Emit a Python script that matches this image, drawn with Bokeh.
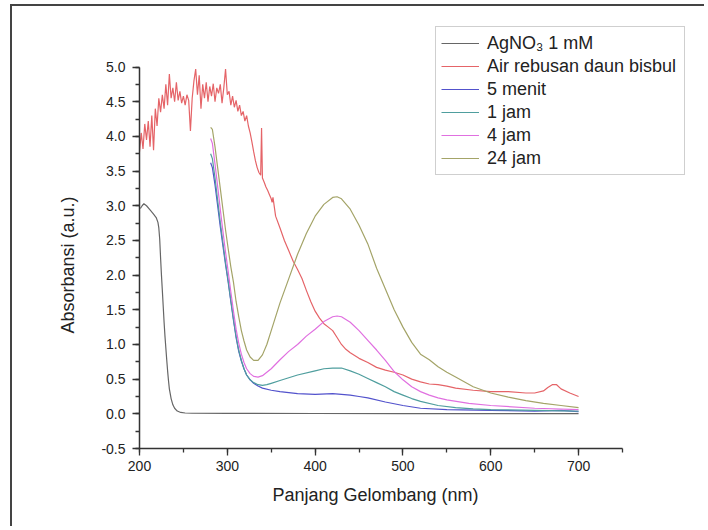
from bokeh.plotting import figure
from bokeh.models import (SingleIntervalTicker, Range1d, Legend, LegendItem,
                          NumeralTickFormatter, Title)
from bokeh.embed import file_html
from bokeh.resources import INLINE

# ---------------- data ----------------
agno3_x = [201, 203, 205, 208, 212, 216, 219, 221, 222, 223, 224, 225, 226, 227, 228,
           229, 230, 231, 232, 233, 234, 236, 238, 240, 243, 247, 252, 260, 300, 400,
           500, 600, 700]
agno3_y = [2.96, 3.00, 3.03, 3.00, 2.94, 2.88, 2.83, 2.76, 2.68, 2.52, 2.25, 2.00, 1.78,
           1.55, 1.32, 1.12, 0.95, 0.78, 0.62, 0.48, 0.36, 0.22, 0.13, 0.08, 0.04, 0.02,
           0.012, 0.008, 0.006, 0.005, 0.004, 0.004, 0.004]

air_x = [200, 202, 204, 206, 208, 210, 212, 214, 216, 218, 220, 222, 224, 226, 228, 230,
         232, 234, 236, 238, 240, 242, 244, 246, 248, 250, 252, 254, 256, 258, 260, 262,
         264, 266, 268, 270, 272, 274, 276, 278, 280, 282, 284, 286, 288, 290, 292, 294,
         296, 298, 300, 302, 304, 306, 308, 310, 312, 314, 316, 318, 320, 322, 324, 326,
         328, 330, 332, 334, 336, 338, 339, 340, 342, 344, 346, 348, 350, 351, 352, 355,
         360, 365, 370, 375, 380, 385, 390, 395, 400, 405, 410, 415, 420, 425, 430, 435,
         440, 450, 460, 470, 480, 490, 500, 510, 520, 530, 540, 550, 560, 580, 600, 620,
         640, 650, 660, 665, 670, 675, 680, 690, 700]
air_y = [3.78, 4.05, 3.82, 4.18, 3.95, 4.22, 3.85, 4.30, 3.80, 4.40, 4.15, 4.55, 4.35,
         4.60, 4.40, 4.75, 4.45, 4.90, 4.55, 4.70, 4.50, 4.78, 4.52, 4.65, 4.48, 4.58,
         4.45, 4.60, 4.52, 4.08, 4.55, 4.80, 4.97, 4.60, 4.88, 4.40, 4.75, 4.55, 4.78,
         4.50, 4.72, 4.58, 4.76, 4.50, 4.70, 4.62, 4.75, 4.48, 4.70, 4.97, 4.60, 4.65,
         4.45, 4.58, 4.42, 4.52, 4.36, 4.45, 4.30, 4.36, 4.22, 4.30, 4.15, 4.05, 3.92,
         3.78, 3.65, 3.55, 3.48, 3.44, 4.12, 3.40, 3.34, 3.27, 3.22, 3.16, 3.10, 3.05,
         3.12, 2.85, 2.68, 2.50, 2.35, 2.20, 2.08, 1.95, 1.78, 1.62, 1.48, 1.38, 1.30,
         1.25, 1.20, 1.10, 1.00, 0.93, 0.88, 0.80, 0.74, 0.67, 0.63, 0.60, 0.56, 0.50,
         0.46, 0.43, 0.42, 0.40, 0.37, 0.34, 0.32, 0.32, 0.30, 0.30, 0.33, 0.38, 0.42,
         0.42, 0.36, 0.30, 0.25]

m5_x = [281, 283, 286, 289, 292, 295, 298, 301, 304, 307, 310, 313, 316, 319, 322, 326,
        330, 335, 340, 350, 360, 380, 400, 420, 430, 440, 450, 460, 480, 500, 520, 550,
        600, 650, 680, 700]
m5_y = [3.62, 3.55, 3.30, 3.00, 2.70, 2.42, 2.15, 1.90, 1.62, 1.35, 1.10, 0.90, 0.76,
        0.65, 0.56, 0.49, 0.44, 0.40, 0.37, 0.34, 0.32, 0.29, 0.28, 0.29, 0.28, 0.27,
        0.25, 0.23, 0.17, 0.12, 0.08, 0.06, 0.05, 0.04, 0.05, 0.03]

j1_x = [281, 283, 286, 289, 292, 295, 298, 301, 304, 307, 310, 313, 316, 319, 322, 326,
        330, 335, 340, 345, 350, 360, 380, 400, 410, 420, 430, 440, 450, 460, 470, 480,
        490, 500, 510, 520, 540, 560, 580, 600, 650, 700]
j1_y = [3.75, 3.68, 3.40, 3.08, 2.76, 2.47, 2.18, 1.92, 1.64, 1.37, 1.12, 0.92, 0.77,
        0.65, 0.56, 0.49, 0.45, 0.42, 0.41, 0.42, 0.44, 0.48, 0.56, 0.62, 0.65, 0.66,
        0.66, 0.62, 0.57, 0.51, 0.45, 0.39, 0.32, 0.27, 0.22, 0.18, 0.12, 0.09, 0.07,
        0.06, 0.05, 0.04]

j4_x = [281, 283, 286, 289, 292, 295, 298, 301, 304, 307, 310, 313, 316, 319, 322, 326,
        330, 335, 340, 345, 350, 360, 370, 380, 390, 400, 410, 420, 425, 430, 440, 450,
        460, 470, 480, 490, 500, 510, 520, 530, 540, 550, 575, 600, 650, 700]
j4_y = [3.97, 3.90, 3.60, 3.28, 2.95, 2.63, 2.33, 2.05, 1.76, 1.48, 1.22, 1.02, 0.86,
        0.74, 0.65, 0.58, 0.54, 0.53, 0.55, 0.60, 0.65, 0.78, 0.90, 1.00, 1.12, 1.22,
        1.33, 1.40, 1.41, 1.40, 1.32, 1.20, 1.06, 0.92, 0.77, 0.61, 0.49, 0.39, 0.32,
        0.27, 0.23, 0.20, 0.15, 0.12, 0.08, 0.06]

j24_x = [281, 283, 286, 289, 292, 295, 298, 301, 304, 307, 310, 313, 316, 319, 322, 326,
         330, 335, 340, 345, 350, 360, 370, 380, 390, 400, 410, 420, 425, 430, 440, 450,
         460, 470, 480, 490, 500, 510, 520, 530, 540, 550, 560, 580, 600, 620, 640, 660,
         680, 700]
j24_y = [4.13, 4.10, 3.85, 3.55, 3.25, 2.95, 2.65, 2.38, 2.12, 1.90, 1.62, 1.40, 1.20,
         1.05, 0.92, 0.82, 0.77, 0.77, 0.85, 1.00, 1.20, 1.60, 1.95, 2.30, 2.60, 2.85,
         3.02, 3.12, 3.13, 3.10, 2.95, 2.72, 2.45, 2.10, 1.80, 1.50, 1.25, 1.03, 0.86,
         0.78, 0.68, 0.60, 0.53, 0.39, 0.30, 0.24, 0.19, 0.15, 0.12, 0.09]

series_labels = ["AgNO\u2083 1 mM", "Air rebusan daun bisbul", "5 menit", "1 jam",
                 "4 jam", "24 jam"]
x_label = "Panjang Gelombang (nm)"
y_label = "Absorbansi (a.u.)"
x_ticks_interval = 100
y_ticks_interval = 0.5
x_axis_extent = (200, 750)
y_axis_extent = (-0.5, 5.0)

# ---------------- figure ----------------
FONT = "Liberation Sans"
# the (invisible) frame reaches above/right of the axes so that the legend,
# which sits partly outside the axes' box in the reference, is not clipped.
p = figure(frame_width=562, frame_height=430, output_backend="svg",
           toolbar_location=None,
           x_range=Range1d(200, 840), y_range=Range1d(-0.5, 5.7),
           min_border_left=127, min_border_right=3,
           min_border_top=12, min_border_bottom=78,
           background_fill_color="white", border_fill_color="white")
p.margin = (4, 0, 0, 10)
p.styles = {"border-top": "2px solid #444444", "border-left": "2px solid #444444"}
p.grid.visible = False
p.outline_line_color = None

colors = ["#666666", "#e56468", "#5252cc", "#4f9e9e", "#e070e0", "#a4a468"]
data = [(agno3_x, agno3_y), (air_x, air_y), (m5_x, m5_y), (j1_x, j1_y),
        (j4_x, j4_y), (j24_x, j24_y)]
renderers = []
for (xs, ys), c in zip(data, colors):
    r = p.line(xs, ys, line_color=c, line_width=1.2)
    renderers.append(r)

# axes
p.xaxis.ticker = SingleIntervalTicker(interval=x_ticks_interval, num_minor_ticks=2)
p.yaxis.ticker = SingleIntervalTicker(interval=y_ticks_interval, num_minor_ticks=2)
p.xaxis.bounds = x_axis_extent
p.yaxis.bounds = y_axis_extent
p.yaxis.formatter = NumeralTickFormatter(format="0.0")
for ax in (p.xaxis[0], p.yaxis[0]):
    ax.axis_line_color = "#333333"
    ax.axis_line_width = 1.5
    ax.major_tick_line_color = "#333333"
    ax.minor_tick_line_color = "#333333"
    ax.major_tick_line_width = 1.3
    ax.minor_tick_line_width = 1.3
    ax.major_tick_out = 7
    ax.major_tick_in = 0
    ax.minor_tick_out = 4
    ax.minor_tick_in = 0
    ax.major_label_text_font = FONT
    ax.major_label_text_font_size = "14px"
    ax.major_label_text_color = "#222222"
p.xaxis.major_label_standoff = 5
p.yaxis.major_label_standoff = 7

# axis titles, centred on the drawn axis extent (not the wider invisible frame)
xt = Title(text=x_label, align="left", offset=133, standoff=19,
           text_font=FONT, text_font_size="18px", text_font_style="normal",
           text_color="#222222")
p.add_layout(xt, "below")
yt = Title(text=y_label, align="left", offset=115, standoff=42,
           text_font=FONT, text_font_size="18px", text_font_style="normal",
           text_color="#222222")
p.add_layout(yt, "left")

# legend (location: x from frame left, y = legend bottom measured from frame bottom)
items = [LegendItem(label=lab, renderers=[r]) for lab, r in zip(series_labels, renderers)]
legend = Legend(items=items, location=(296, 273), margin=0, padding=5, spacing=1,
                glyph_width=38, glyph_height=20, label_height=22, label_standoff=8,
                label_width=192,
                label_text_font=FONT, label_text_font_size="18px",
                label_text_color="#222222",
                border_line_color="#a0a0a0", border_line_width=1.5,
                background_fill_color="white", background_fill_alpha=1.0)
p.add_layout(legend)

open("out.html", "w").write(file_html(p, INLINE))
